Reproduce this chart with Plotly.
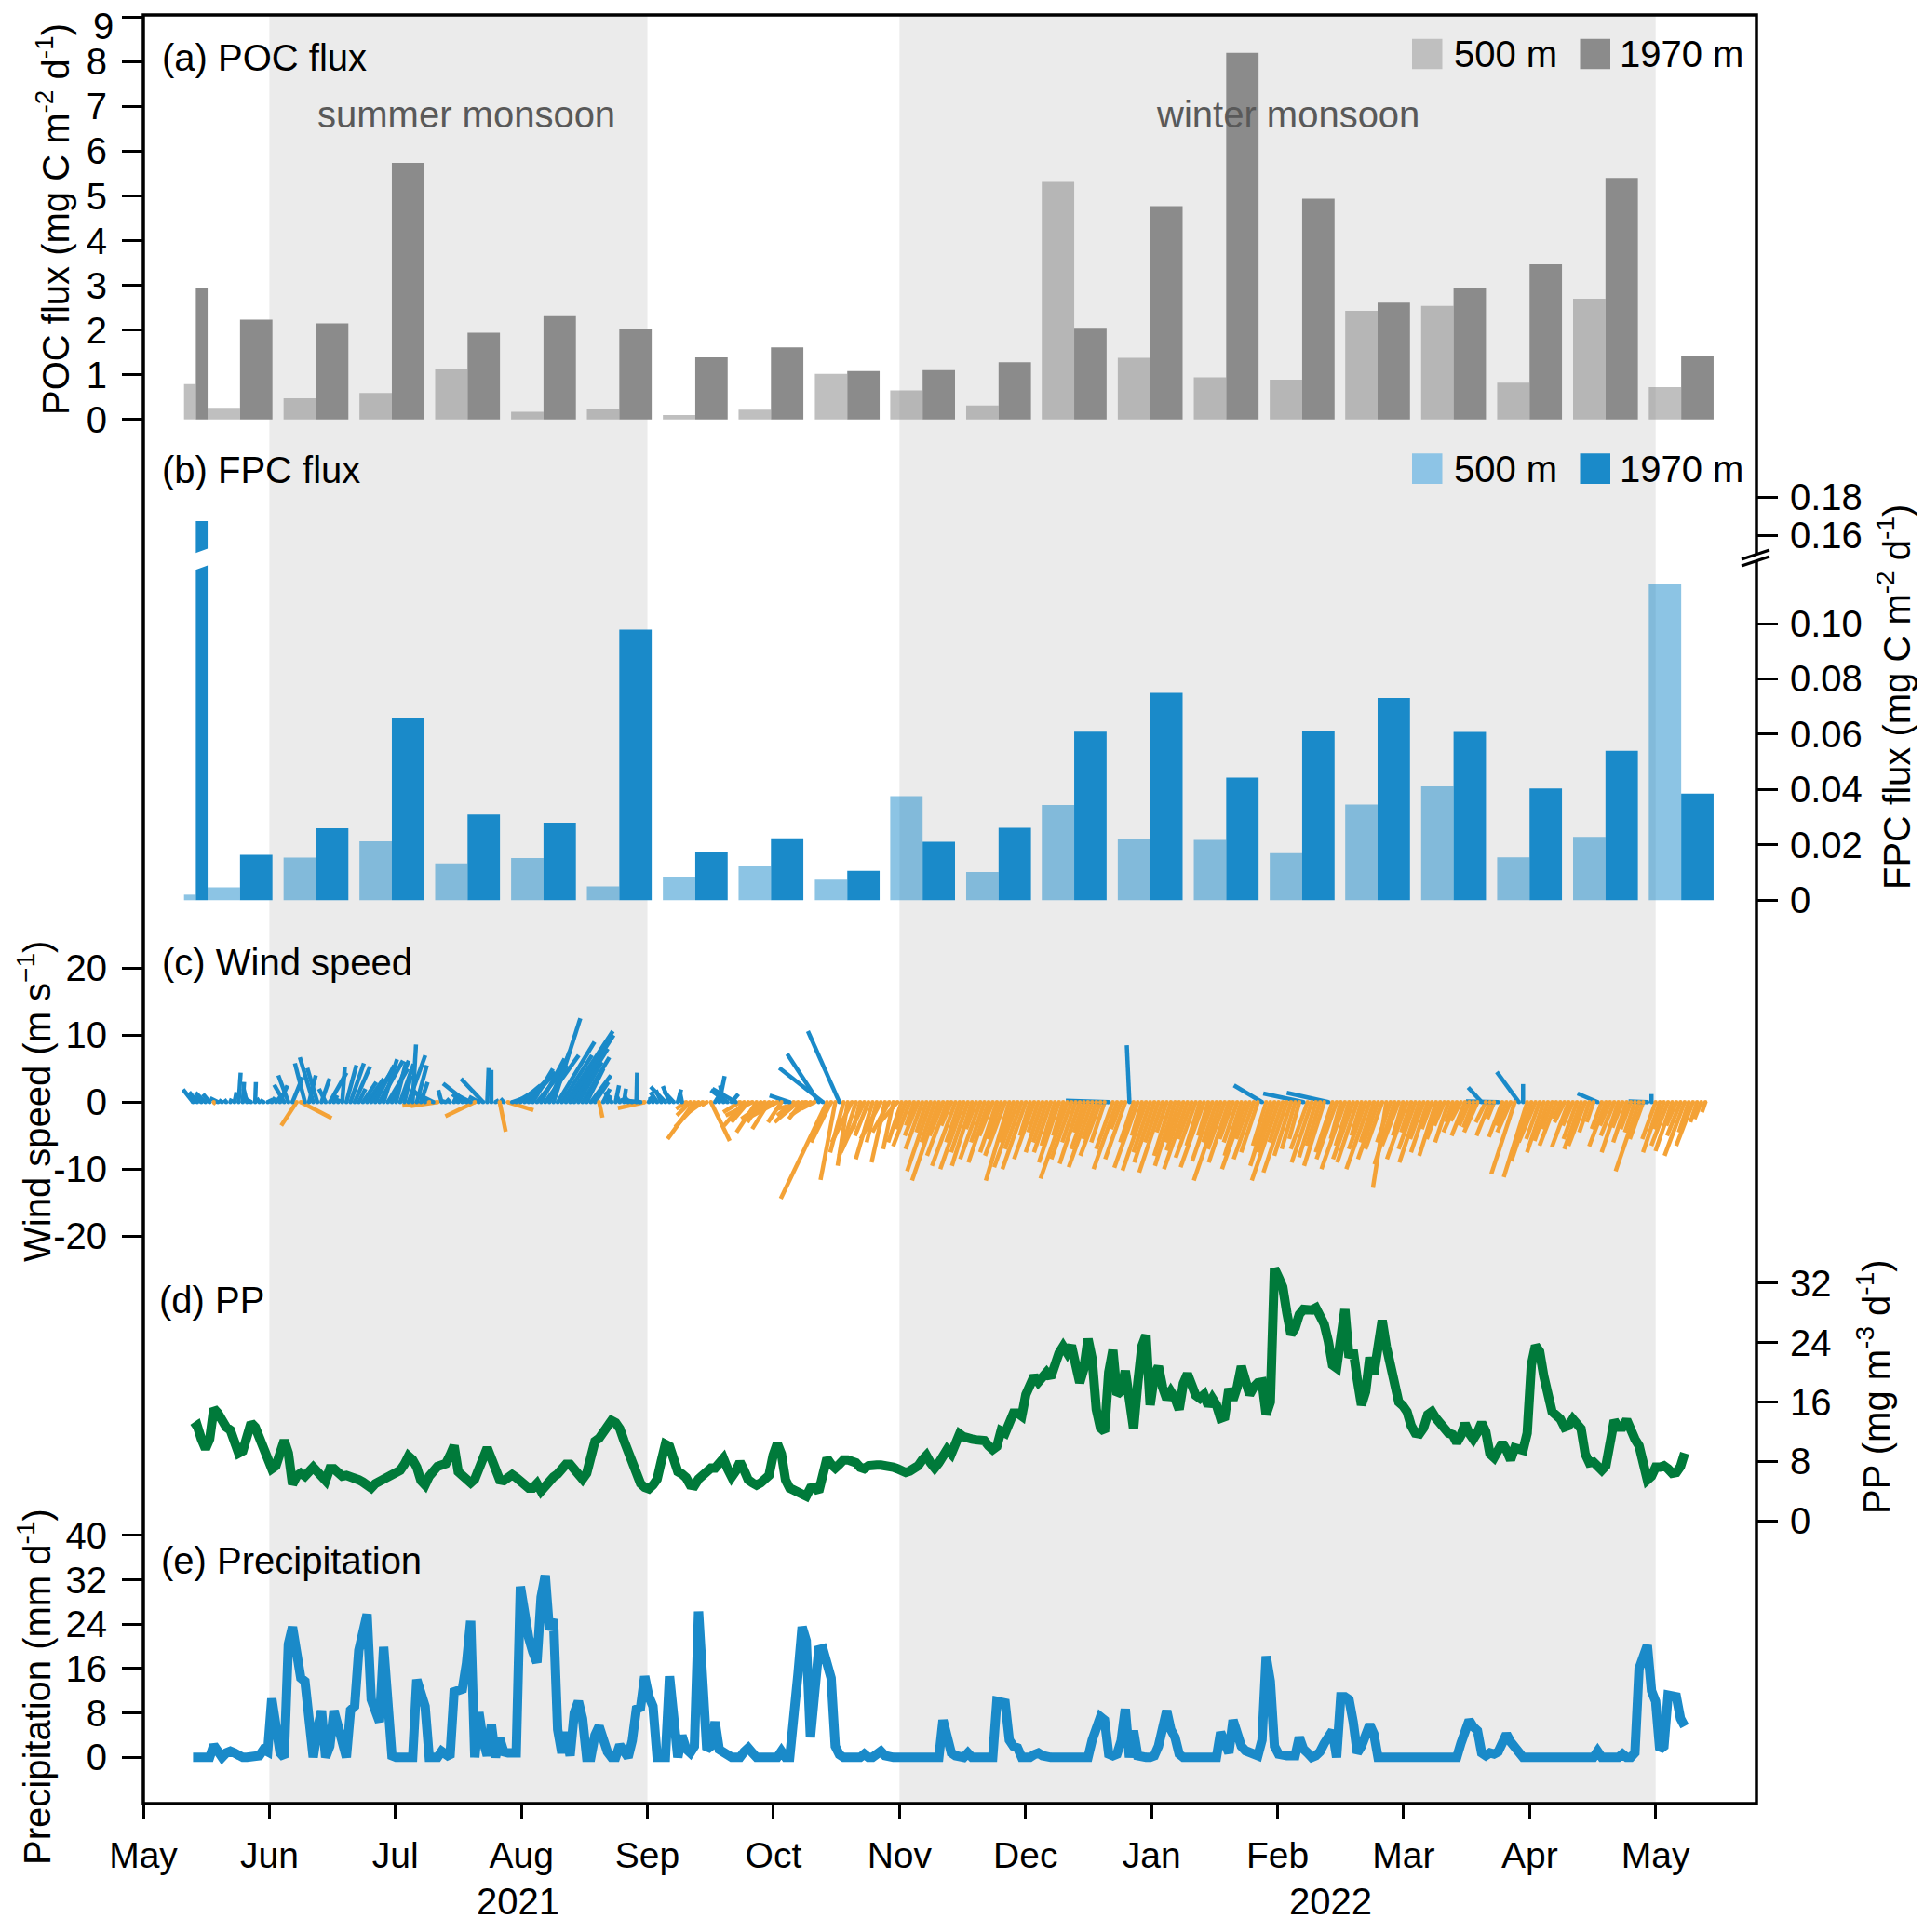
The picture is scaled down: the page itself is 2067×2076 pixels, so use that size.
import pandas as pd
import plotly.graph_objects as go

# ---------------- data ----------------
# sediment-trap cups: mid date of each collection interval and bar width (days)
sample_mid = ['2021-05-13 16:00', '2021-05-24 08:00', '2021-06-11 16:00', '2021-06-29 23:30',
              '2021-07-18 06:00', '2021-08-05 14:00', '2021-08-23 21:00', '2021-09-11 05:00',
              '2021-09-29 11:30', '2021-10-17 21:30', '2021-11-05 02:00', '2021-11-23 10:00',
              '2021-12-11 16:00', '2021-12-30 00:15', '2022-01-17 08:30', '2022-02-04 16:30',
              '2022-02-22 21:30', '2022-03-13 05:30', '2022-03-31 13:45', '2022-04-18 21:30',
              '2022-05-07 04:00']
bar_days = [2.85] + [7.82] * 20

poc_500 = [0.79, 0.26, 0.47, 0.59, 1.14, 0.17, 0.24, 0.10, 0.22, 1.02, 0.65,
           0.31, 5.31, 1.38, 0.94, 0.89, 2.43, 2.54, 0.82, 2.70, 0.72]
poc_1970 = [2.94, 2.23, 2.15, 5.74, 1.94, 2.31, 2.03, 1.39, 1.61, 1.08, 1.10,
            1.28, 2.05, 4.77, 8.20, 4.94, 2.61, 2.94, 3.47, 5.40, 1.41]
fpc_500 = [0.002, 0.0046, 0.0154, 0.0213, 0.0133, 0.0152, 0.005, 0.0085, 0.0122, 0.0074, 0.0376,
           0.0102, 0.0344, 0.0221, 0.0218, 0.0170, 0.0346, 0.0411, 0.0155, 0.0229, 0.1143]
fpc_1970 = [0.1675, 0.0164, 0.026, 0.0658, 0.031, 0.028, 0.0978, 0.0174, 0.0224, 0.0106, 0.0211,
            0.0262, 0.0609, 0.0749, 0.0443, 0.061, 0.0731, 0.0608, 0.0404, 0.054, 0.0385]

# daily series, starting 2021-05-13
daily_start = '2021-05-13'
pp = [12.4, 12.8, 11.0, 9.7, 11.0, 15.1, 14.5, 13.2, 12.6, 12.2,
      10.8, 9.1, 9.4, 11.5, 13.2, 12.6, 11.0, 9.8, 8.1, 7.0,
      7.4, 8.8, 10.8, 9.1, 4.9, 6.0, 6.4, 6.0, 6.8, 7.2,
      6.6, 5.8, 5.4, 7.0, 7.0, 6.5, 6.0, 6.1, 6.0, 5.7,
      5.5, 5.2, 4.8, 4.4, 5.0, 5.3, 5.8, 6.2, 6.3, 6.5,
      6.8, 7.6, 8.7, 8.2, 7.2, 5.4, 4.8, 6.0, 6.8, 7.3,
      7.5, 7.7, 8.8, 10.1, 6.6, 6.0, 5.6, 5.1, 5.6, 6.8,
      8.5, 9.8, 8.4, 7.2, 5.5, 5.4, 5.8, 6.2, 5.8, 5.2,
      4.8, 4.4, 4.4, 5.0, 4.0, 4.6, 5.6, 5.9, 6.3, 6.8,
      7.6, 7.6, 7.0, 6.2, 5.6, 6.4, 9.0, 10.7, 11.1, 11.8,
      13.0, 13.5, 13.2, 12.4, 10.8, 9.3, 8.5, 6.5, 5.0, 4.5,
      4.3, 4.8, 5.6, 8.0, 10.3, 10.0, 8.2, 6.6, 6.3, 5.8,
      4.8, 4.7, 5.6, 6.0, 6.7, 7.1, 7.1, 7.6, 8.4, 7.0,
      5.9, 6.7, 7.9, 6.8, 5.5, 5.1, 4.8, 5.1, 5.6, 6.1,
      8.8, 10.4, 9.0, 5.5, 4.4, 4.1, 3.7, 3.3, 3.3, 4.4,
      4.5, 3.9, 6.0, 8.4, 7.6, 7.1, 7.6, 8.2, 8.2, 8.1,
      7.8, 7.2, 7.0, 7.4, 7.6, 7.5, 7.5, 7.5, 7.4, 7.2,
      7.0, 6.6, 6.5, 6.7, 6.9, 7.4, 8.2, 8.8, 7.8, 7.1,
      7.8, 8.9, 9.6, 9.0, 10.2, 11.7, 11.3, 11.0, 11.0, 10.9,
      10.9, 10.8, 10.1, 9.6, 10.0, 12.1, 11.8, 13.5, 14.5, 14.5,
      14.1, 17.0, 18.5, 19.5, 18.7, 19.6, 20.0, 19.3, 21.5, 22.6,
      23.5, 22.6, 23.6, 21.5, 18.6, 20.5, 24.5, 21.8, 15.0, 12.5,
      12.0, 20.0, 23.0, 17.0, 17.5, 20.2, 16.8, 12.4, 18.5, 23.5,
      25.0, 15.6, 19.5, 20.8, 18.0, 16.4, 17.4, 16.5, 15.0, 18.5,
      19.8, 18.2, 16.9, 16.5, 17.0, 15.5, 16.5, 15.6, 13.8, 14.0,
      17.8, 16.3, 18.0, 20.8, 19.0, 17.0, 18.0, 18.6, 18.7, 14.3,
      16.0, 34.0, 32.8, 31.5, 28.0, 25.1, 26.0, 27.8, 28.5, 28.3,
      28.4, 28.7, 27.8, 26.5, 24.2, 21.0, 20.6, 25.1, 28.5, 22.0,
      23.0, 19.0, 15.6, 17.4, 22.0, 19.8, 23.5, 27.0, 23.5, 21.0,
      18.5, 16.0, 15.5, 14.7, 12.8, 11.8, 11.7, 12.5, 14.3, 14.7,
      13.8, 13.1, 12.0, 11.8, 11.6, 10.5, 11.5, 13.1, 11.8, 11.0,
      11.9, 13.2, 12.0, 9.0, 8.5, 9.5, 10.5, 9.5, 8.2, 9.8,
      9.6, 9.5, 11.8, 21.0, 23.6, 22.8, 19.5, 16.4, 14.7, 14.2,
      13.7, 12.6, 12.8, 13.7, 13.0, 12.4, 9.0, 7.8, 7.9, 7.5,
      6.8, 7.4, 10.5, 13.5, 12.6, 12.6, 13.6, 12.0, 11.0, 10.1,
      7.8, 5.5, 6.0, 7.2, 7.2, 7.4, 7.0, 6.4, 6.5, 7.3,
      9.1]

precip = [0, 0, 0, 0, 0, 2.2, 1.0, 0, 0.8, 1.1,
          0.8, 0.3, 0, 0, 0, 0, 0.3, 1.4, 1.0, 10.6,
          4.0, 0.8, 0, 20.4, 23.5, 18.0, 14.3, 13.7, 7.0, 0,
          5.0, 8.4, 0, 2.0, 8.4, 5.0, 1.5, 0, 8.5, 9.2,
          19.3, 22.0, 25.8, 10.4, 8.4, 6.4, 19.9, 8.0, 0.3, 0,
          0, 0, 0, 0, 14.0, 12.0, 9.2, 0, 0, 0,
          1.1, 0.5, 0, 11.8, 12.0, 12.3, 17.0, 24.6, 0, 8.1,
          3.0, 0.3, 5.9, 0, 3.4, 1.0, 0.8, 0.6, 0.8, 30.8,
          24.9, 21.6, 19.0, 17.1, 28.9, 32.8, 23.0, 24.9, 5.0, 0.8,
          4.5, 0.3, 8.0, 10.1, 7.0, 0, 0, 4.0, 5.6, 2.5,
          1.0, 0, 0, 2.2, 1.0, 0, 3.0, 8.7, 9.0, 14.6,
          11.0, 9.2, 0, 0, 0, 14.6, 5.0, 0, 3.9, 1.5,
          0.8, 2.0, 26.3, 10.0, 1.4, 2.0, 6.4, 1.4, 0.8, 0.3,
          0, 0, 0, 1.0, 1.7, 0.8, 0, 0, 0, 0,
          0, 0, 1.1, 0, 0, 5.9, 15.0, 23.5, 21.0, 3.6,
          12.0, 19.4, 19.6, 16.5, 14.3, 2.0, 0.5, 0, 0, 0,
          0, 0, 0.6, 0, 0, 0.5, 1.1, 0.3, 0, 0,
          0, 0, 0, 0, 0, 0, 0, 0, 0, 0,
          0, 6.7, 3.0, 0.8, 0.3, 0, 0, 0.8, 0, 0,
          0, 0, 0, 0, 10.1, 10.0, 9.8, 3.1, 2.0, 1.7,
          0, 0, 0, 0.5, 0.8, 0.3, 0, 0, 0, 0,
          0, 0, 0, 0, 0, 0, 0, 3.1, 5.0, 7.3,
          6.7, 0.6, 0.3, 0.6, 3.0, 8.7, 0, 4.8, 0.3, 0,
          0, 0, 0.3, 2.0, 6.0, 8.4, 5.0, 3.6, 0.6, 0,
          0, 0, 0, 0, 0, 0, 0, 0, 4.5, 2.0,
          0.8, 6.7, 4.5, 2.0, 1.2, 0.8, 0.5, 0.3, 3.1, 18.2,
          13.7, 2.0, 0.6, 0.3, 0.3, 0.3, 0.3, 3.6, 1.5, 0.8,
          0, 0.3, 1.0, 2.5, 3.5, 4.8, 0, 10.9, 10.9, 10.4,
          6.4, 0.8, 2.0, 4.5, 5.9, 4.2, 0, 0, 0, 0,
          0, 0, 0, 0, 0, 0, 0, 0, 0, 0,
          0, 0, 0, 0, 0, 0, 2.5, 4.5, 6.7, 5.5,
          4.8, 0.8, 0.3, 0.8, 0.6, 1.0, 2.5, 4.2, 2.8, 2.0,
          0.8, 0, 0, 0, 0, 0, 0, 0, 0, 0,
          0, 0.3, 0, 0, 0, 0, 0, 0, 0, 1.1,
          0, 0, 0, 0, 0, 0.6, 0, 0, 0.8, 16.0,
          18.0, 20.2, 12.0, 10.1, 1.4, 2.0, 11.2, 11.0, 10.9, 7.0,
          5.6]

# daily wind components (m/s), starting 2021-05-13
wind_u = [-1.5, -1.2, -0.8, -1.5, -1.0, 0.3, -1.2, -0.5, -0.3,
          0.2, 0.3, 0.3, 0.2, -0.5, -1.0, 0.1, -0.4, -0.5, 0.8,
          0.5, 1.0, 1.1, -1.5, -1.5, 1.5, -2.3, 4.6, -1.5, 1.0,
          -2.0, -1.5, 1.2, -1.0, 2.5, 0.5, 0.2, 0.4, 1.5, 2.0,
          2.3, 1.0, 2.0, 2.5, 3.0, 2.8, 3.5, 2.0, 3.0, 2.5,
          1.5, 2.0, 1.0, 2.5, 0.5, 1.5, 1.0, -2.0, -4.0, -3.0,
          -4.0, -0.5, -1.0, -0.5, 0.3, -0.8, -1.5, -3.5, -2.0, -4.4,
          -1.5, -3.3, 0.2, 0.0, 0.5, 0.9, -0.5, 3.8, 1.5, 2.5,
          3.0, 3.5, 4.0, 3.0, 4.5, 3.5, 5.0, 3.0, 4.0, 5.5,
          4.5, 7.0, 6.5, 5.0, 3.5, 4.0, 2.5, 3.0, 2.0, 0.5,
          1.0, 0.5, -1.0, 0.5, -0.5, 0.3, -0.5, -1.5, 0.1, -3.0,
          -4.0, 0.3, -0.5, -1.0, -0.8, -2.2, -1.0, -1.5, 0.5, -0.3,
          -1.5, -2.0, -4.0, -3.5, -2.5, -0.8, 2.8, 0.5, 0.8, -0.5,
          -2.5, 1.0, -3.5, -2.5, -3.0, -2.5, -4.0, -3.0, -2.0, -3.5,
          -2.5, -3.0, -4.0, -2.0, -1.0, -3.0, -2.5, -3.5, -2.0, -4.5,
          -3.0, -2.0, -4.7, -6.5, -6.9, -3.0, -2.2, -4.7, -2.0, -1.5,
          -3.0, -2.5, -1.0, -3.5, -2.0, -2.5, -1.5, -3.0, -2.0, -2.5,
          -1.5, -3.0, -2.0, -1.5, -2.5, -1.2, -2.0, -2.5, -1.5, -3.5,
          -2.0, -4.0, -2.0, -3.0, -1.5, -3.5, -2.0, -3.5, -2.5, -3.0,
          -1.5, -3.0, -2.0, -3.0, -2.0, -2.5, -2.0, -3.0, -3.5, -2.0,
          -3.5, -2.5, -3.5, -1.5, -3.0, -1.5, -2.5, -2.0, -2.5, -2.0,
          -3.0, -1.5, -4.0, -3.0, -2.0, -3.0, -1.5, -2.5, -3.5, -2.0,
          -3.0, -2.0, -6.4, -2.5, -3.5, -1.5, -3.0, -0.4, -2.0, -3.5,
          -1.5, -3.5, -2.5, -3.0, -2.0, -3.5, -1.5, -2.5, -3.0, -2.0,
          -2.5, -3.5, -2.0, -3.0, -2.0, -3.5, -1.5, -3.0, -2.0, -4.0,
          -2.5, -3.0, -2.0, -2.0, -2.5, -3.5, -2.0, -3.0, -2.5, -4.2,
          -2.0, -3.0, -2.5, -4.0, -2.0, -3.5, -2.5, -2.0, -1.5, -6.0,
          -2.5, -3.0, -2.5, -2.0, -3.0, -6.2, -2.5, -3.0, -1.5, -3.5,
          -2.0, -3.0, -3.0, -1.5, -2.5, -3.5, -2.0, -3.0, -2.5, -2.0,
          -2.0, -3.0, -2.5, -1.5, -3.0, -1.5, -2.5, -3.0, -2.0, -2.5,
          -1.5, -2.5, -2.0, -1.5, -2.0, -1.0, -2.0, -1.5, -2.0, -1.5,
          -1.5, -2.0, -2.0, -1.5, -2.0, -1.0, -4.8, -2.0, -1.5, -2.0,
          -3.5, -3.3, 0.0, -3.5, -3.0, -2.5, -2.0, -2.5, -2.0, -1.5,
          -2.5, -1.0, -1.5, -2.5, -1.5, -2.0, -2.5, -2.5, -1.5, -1.0,
          -3.0, -1.5, -2.5, -1.5, -2.0, -2.5, -1.5, -2.0, -1.5, -1.5,
          -3.5, -2.0, -2.8, 0.0, -2.0, -2.5, -1.5, -2.5, -2.5, -1.5,
          -2.0, -3.0, -1.5, -2.5, -1.0, -1.0, -0.5]
wind_v = [1.9, 1.5, 1.0, 1.4, 1.2, -0.3, 0.6, 0.3, 0.4,
          0.5, 1.5, 4.4, 3.0, 2.0, 0.6, 3.0, 0.6, 0.3, 0.4,
          0.7, 1.2, 2.5, 2.6, 4.0, 3.7, -3.5, -2.4, 5.8, 4.0,
          6.7, 5.1, 3.5, 2.0, 4.4, 1.0, 0.5, 5.3, 5.5, 5.8,
          5.3, 2.0, 3.0, 3.5, 4.5, 5.5, 6.2, 6.4, 5.0, 6.2,
          6.0, 5.7, 4.0, 7.0, 8.6, 5.5, 3.0, 2.0, -0.5, 1.5,
          -0.6, 1.8, 0.3, 0.5, 0.6, 0.4, 1.2, 2.8, 1.0, -2.1,
          0.8, 3.5, 5.1, 4.8, 0.3, -4.4, 0.5, -1.2, 0.5, 1.5,
          2.5, 3.5, 4.5, 5.0, 5.5, 6.5, 7.0, 7.5, 12.5, 9.0,
          7.0, 10.6, 10.0, 8.0, 6.0, 6.7, 5.0, 4.0, 3.0, -2.3,
          2.0, 1.0, 1.5, 2.5, 1.0, 2.0, 0.8, 0.6, 4.4, 0.3,
          -0.9, 0.5, 0.8, 1.5, 1.8, 2.3, 2.4, 1.6, 1.9, 1.5,
          -1.0, -2.0, -5.5, -3.7, -1.8, -0.5, -5.8, 0.8, 3.9, 2.5,
          1.8, 1.2, 2.0, -1.5, -3.5, -3.0, -2.0, -4.5, -3.0, -2.5,
          -4.0, -1.5, -2.2, -3.0, 0.3, 1.0, -2.0, -3.0, -2.5, -1.0,
          -2.0, -1.0, 7.2, 5.1, -14.4, -6.0, -11.6, 10.6, -7.5, -9.5,
          -6.0, -8.0, -4.0, -7.5, -5.0, -8.5, -6.0, -5.5, -9.0, -4.5,
          -7.0, -3.5, -6.0, -4.0, -6.6, -3.5, -5.0, -7.0, -4.5, -10.3,
          -6.0, -11.7, -5.0, -8.0, -3.5, -9.5, -6.0, -10.0, -7.5, -9.5,
          -4.0, -8.5, -6.0, -9.0, -5.0, -7.5, -5.5, -8.0, -11.7, -6.0,
          -9.7, -7.0, -10.0, -5.0, -8.5, -4.5, -7.5, -6.0, -7.5, -6.5,
          -9.0, -5.0, -11.4, -8.5, -6.0, -9.2, -4.5, -7.0, -9.7, -5.5,
          -8.0, -6.0, 0.2, -7.0, -10.0, -4.0, -8.5, 8.5, -6.0, -9.8,
          -5.0, -10.2, -7.5, -9.0, -6.0, -10.5, -4.5, -8.0, -9.5, -6.0,
          -7.2, -10.0, -5.5, -8.3, -6.5, -9.7, -5.0, -8.8, -6.0, -11.7,
          -7.0, -9.0, -5.5, -6.0, -8.0, -10.0, -5.5, -8.5, -7.5, 2.5,
          -6.5, -9.5, -7.5, -11.7, -6.0, -10.5, -8.0, -7.0, -5.5, 1.3,
          -7.0, -9.0, -8.2, -6.5, -9.5, 1.4, -7.5, -8.5, -5.5, -10.0,
          -6.5, -8.5, -9.0, -5.0, -7.0, -10.0, -6.0, -8.5, -7.0, -12.8,
          -6.0, -9.3, -6.5, -5.0, -8.5, -4.5, -7.0, -9.0, -5.5, -7.5,
          -4.0, -8.0, -5.5, -3.5, -6.0, -3.0, -4.5, -2.8, -5.0, -3.5,
          -3.8, -4.5, 2.2, -3.0, -5.0, -2.5, 0.1, -5.2, -3.5, -4.5,
          -10.7, 4.5, 2.7, -11.2, -8.8, -6.0, -5.5, -7.5, -5.8, -4.0,
          -6.5, -2.5, -3.0, -6.7, -3.5, -5.5, -7.0, -6.5, -4.5, -3.0,
          1.3, -4.0, -6.6, -3.5, -5.0, -7.5, -3.8, -6.0, -4.0, -4.5,
          -10.3, -5.5, 0.1, 1.2, -5.5, -7.5, -4.0, -6.5, -7.3, -3.5,
          -5.0, -8.0, -4.5, -6.5, -3.0, -2.5, -1.5]

months = ['May', 'Jun', 'Jul', 'Aug', 'Sep', 'Oct', 'Nov', 'Dec',
          'Jan', 'Feb', 'Mar', 'Apr', 'May']
years = ['2021', '2022']
summer_months = (1, 4)   # Jun .. Sep tick
winter_months = (6, 12)  # Nov .. May tick

# ---------------- layout helpers ----------------
# positions below are page pixels of the 2067x2076 window; the page body has
# an 8 px margin, so the figure itself is 16 px smaller and starts at (8, 8)
PAGE_W, PAGE_H, BODY = 2067, 2076, 8
FIG_W, FIG_H = PAGE_W - 2 * BODY, PAGE_H - 2 * BODY
L, R, T, B = 154, 1887, 16, 1938
FONT = 'Liberation Sans, Arial, sans-serif'
GREY_BAR = '#8b8b8b'
BLUE = '#1a8ac9'
ORANGE = '#f4a236'
GREEN = '#007a3a'

x_start = pd.Timestamp('2021-05-01')
px_per_day = 4.4512
x_end = x_start + pd.Timedelta(days=(R - L) / px_per_day)
month_ticks = [x_start + pd.Timedelta(days=k * 365 / 12) for k in range(len(months))]


def xp(px):
    return (px - L) / (R - L)


def yp(py):
    return (B - py) / (B - T)


def yaxis_px(bottom, top, zero, ppu, side, tickvals, ticktext):
    return dict(domain=[yp(bottom), yp(top)],
                range=[(zero - bottom) / ppu, (zero - top) / ppu],
                anchor='x', side=side, automargin=False, ticklabeloverflow='allow',
                showline=False, showgrid=False, zeroline=False,
                ticks='outside', ticklen=22, tickwidth=3, tickcolor='black',
                tickvals=tickvals, ticktext=ticktext,
                ticklabelstandoff=8 if side == 'left' else 5,
                tickfont=dict(size=40, color='black', family=FONT))


fig = go.Figure()

# ---------------- bars ----------------
mid = pd.to_datetime(sample_mid)
width_ms = [d * 86400000 for d in bar_days]
left_ms = [-w for w in width_ms]

fig.add_trace(go.Bar(x=mid, y=poc_500, width=width_ms, offset=left_ms, yaxis='y',
                     marker=dict(color='rgba(139,139,139,0.55)', line_width=0)))
fig.add_trace(go.Bar(x=mid, y=poc_1970, width=width_ms, offset=0, yaxis='y',
                     marker=dict(color=GREY_BAR, line_width=0)))
fig.add_trace(go.Bar(x=mid, y=fpc_500, width=width_ms, offset=left_ms, yaxis='y2',
                     marker=dict(color='rgba(26,138,201,0.5)', line_width=0)))
for ax in ['y2', 'y3']:
    fig.add_trace(go.Bar(x=mid, y=fpc_1970, width=width_ms, offset=0, yaxis=ax,
                         marker=dict(color=BLUE, line_width=0)))

# ---------------- wind sticks ----------------
days_per_ms = 7.2 / px_per_day   # keeps the stick direction true on the page
wind_dates = pd.date_range(daily_start, periods=len(wind_u), freq='D')
sticks = {True: ([], []), False: ([], [])}
for t, u, v in zip(wind_dates, wind_u, wind_v):
    xs, ys = sticks[v >= 0]
    xs += [t, t + pd.Timedelta(days=u * days_per_ms), None]
    ys += [0, v, None]
for north, col in [(False, ORANGE), (True, BLUE)]:
    fig.add_trace(go.Scatter(x=sticks[north][0], y=sticks[north][1], yaxis='y4', mode='lines',
                             line=dict(color=col, width=4.5)))
fig.add_trace(go.Scatter(x=wind_dates, y=[0] * len(wind_dates), yaxis='y4', mode='markers',
                         marker=dict(size=4.5, color=[BLUE if v >= 0 else ORANGE for v in wind_v])))

# ---------------- PP and precipitation ----------------
fig.add_trace(go.Scatter(x=pd.date_range(daily_start, periods=len(pp), freq='D'), y=pp,
                         yaxis='y5', mode='lines', line=dict(color=GREEN, width=10)))
fig.add_trace(go.Scatter(x=pd.date_range(daily_start, periods=len(precip), freq='D'), y=precip,
                         yaxis='y6', mode='lines', line=dict(color=BLUE, width=10)))

# ---------------- shapes ----------------
shapes = []
for a, b in [summer_months, winter_months]:
    shapes.append(dict(type='rect', xref='x', yref='paper', x0=month_ticks[a], x1=month_ticks[b],
                       y0=0, y1=1, fillcolor='#ebebeb', line_width=0, layer='below'))
shapes.append(dict(type='rect', xref='paper', yref='paper', x0=0, x1=1, y0=0, y1=1,
                   line=dict(color='black', width=3.5), fillcolor='rgba(0,0,0,0)'))


def poly(pts):
    return 'M' + ' L'.join(f'{xp(a):.5f},{yp(b):.5f}' for a, b in pts) + ' Z'


# broken bar and broken right axis
shapes.append(dict(type='path', xref='paper', yref='paper', line_width=0, fillcolor='white',
                   path=poly([(204, 596.5), (230, 587), (230, 605), (204, 614.5)])))
shapes.append(dict(type='path', xref='paper', yref='paper', line_width=0, fillcolor='white',
                   path=poly([(1871, 601), (1901, 591), (1901, 598), (1871, 608)])))
for off in (0, 7):
    shapes.append(dict(type='line', xref='paper', yref='paper', x0=xp(1871), y0=yp(601 + off),
                       x1=xp(1901), y1=yp(591 + off), line=dict(color='black', width=3)))

# legend swatches
legend_cols = [('#bfbfbf', GREY_BAR, 41.7, 74.3), ('#8dc4e6', BLUE, 487.3, 520)]
for light, dark, y0, y1 in legend_cols:
    for x0, col in [(1517, light), (1697.5, dark)]:
        shapes.append(dict(type='rect', xref='paper', yref='paper', x0=xp(x0), x1=xp(x0 + 32.5),
                           y0=yp(y1), y1=yp(y0), fillcolor=col, line_width=0))

# ---------------- annotations ----------------
ann = []


def text(x, y, s, anchor='left', angle=0, color='black', size=40):
    ann.append(dict(xref='paper', yref='paper', x=xp(x), y=yp(y), text=s, showarrow=False,
                    xanchor=anchor, yanchor='middle', textangle=angle,
                    font=dict(size=size, color=color, family=FONT)))


text(172, 62.5, '(a) POC flux')
text(172, 505, '(b) FPC flux')
text(172, 1034, '(c) Wind speed')
text(169, 1397, '(d) PP')
text(171, 1677, '(e) Precipitation')
text(500.6, 123, 'summer monsoon', 'center', color='#595959')
text(1383.5, 123, 'winter monsoon', 'center', color='#595959')
for yc in (58, 503.7):
    text(1560, yc, '500 m')
    text(1738, yc, '1970 m')
text(57, 236, 'POC flux (mg C m<sup>-2</sup> d<sup>-1</sup>)', 'center', -90)
text(2035, 749, 'FPC flux (mg C m<sup>-2</sup> d<sup>-1</sup>)', 'center', -90)
text(37, 1184, 'Wind speed (m s<sup>\u22121</sup>)', 'center', -90)
text(2013, 1490, 'PP (mg m<sup>-3</sup> d<sup>-1</sup>)', 'center', -90)
text(37, 1813, 'Precipitation (mm d<sup>-1</sup>)', 'center', -90)
text(556, 2043, years[0], 'center')
text(1429, 2043, years[1], 'center')
# top POC label sits at the page edge; nudge it just inside the page
poc_ticks = list(range(10))
poc_labels = [str(i) for i in poc_ticks[:-1]] + ['']
text(124, 28, str(poc_ticks[-1]), 'right')

# ---------------- axes ----------------
fig.update_layout(
    template='none',
    width=FIG_W, height=FIG_H, autosize=False,
    margin=dict(l=L - BODY, r=FIG_W - (R - BODY), t=T - BODY, b=FIG_H - (B - BODY), pad=0),
    paper_bgcolor='white', plot_bgcolor='rgba(0,0,0,0)',
    barmode='overlay', showlegend=False,
    font=dict(family=FONT, size=40, color='black'),
    xaxis=dict(type='date', range=[x_start, x_end], anchor='free', position=0, automargin=False,
               showgrid=False, zeroline=False, showline=False,
               ticks='outside', ticklen=16, tickwidth=3, tickcolor='black',
               tickvals=month_ticks, ticktext=months, ticklabelstandoff=5,
               ticklabeloverflow='allow',
               tickfont=dict(size=39, color='black', family=FONT)),
    yaxis=yaxis_px(452, T, 450.7, 48.04, 'left', poc_ticks, poc_labels),
    yaxis2=yaxis_px(970, 600, 967.3, 2973, 'right', [0, 0.02, 0.04, 0.06, 0.08, 0.10],
                    ['0', '0.02', '0.04', '0.06', '0.08', '0.10']),
    yaxis3=yaxis_px(600, 520, 903.3, 2050, 'right', [0.16, 0.18], ['0.16', '0.18']),
    yaxis4=yaxis_px(1345, 1015, 1184.3, 7.2, 'left', [-20, -10, 0, 10, 20],
                    ['-20', '-10', '0', '10', '20']),
    yaxis5=yaxis_px(1650, 1345, 1634, 7.969, 'right', [0, 8, 16, 24, 32],
                    ['0', '8', '16', '24', '32']),
    yaxis6=yaxis_px(1932, 1645, 1888.3, 5.958, 'left', [0, 8, 16, 24, 32, 40],
                    ['0', '8', '16', '24', '32', '40']),
    shapes=shapes, annotations=ann,
)

fig.write_html('out.html')
